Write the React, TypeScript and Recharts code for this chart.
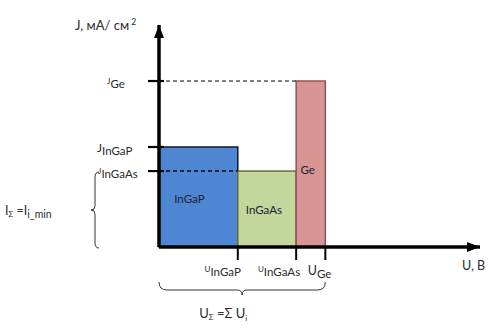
import React from 'react';
import { ComposedChart, XAxis, YAxis, ReferenceArea, ReferenceLine, ReferenceDot } from 'recharts';

// Junctions (sub-cells) of the triple-junction cell
const cells = ['InGaP', 'InGaAs', 'Ge'];
// Voltage of each sub-cell, V
const voltages = [1.35, 1.0, 0.5];
// Current density of each sub-cell, mA/cm²
const currents = [12.05, 9.15, 20];
// Axis extents
const uMax = 5.5;
const jMax = 26.75;

const cellFills = ['#4F86D4', '#C3D69B', '#D99594'];
const cellStrokes = ['#10182a', '#5E7330', '#8E5454'];

const starts: number[] = [];
const ends: number[] = [];
voltages.reduce((acc, v) => {
  starts.push(acc);
  ends.push(acc + v);
  return acc + v;
}, 0);
const uTotal = ends[ends.length - 1];
const jMin = Math.min(...currents);
const geIndex = cells.indexOf('Ge');

const FONT = 'Lato, "Open Sans", sans-serif';
const TXT = '#2b2b2b';

const yLabelStyle: Record<string, { dx: number; small: boolean }> = {
  Ge: { dx: -52, small: true },
  InGaP: { dx: -62, small: false },
  InGaAs: { dx: -61, small: true },
};

const YTick = (props: any) => {
  const { x, y, payload } = props;
  const idx = currents.indexOf(payload.value);
  const name = cells[idx];
  const st = yLabelStyle[name];
  return (
    <g>
      <line x1={x - 11} x2={x + 5} y1={y} y2={y} stroke="#000" strokeWidth={2.2} />
      <text x={x + st.dx} y={y + 7} fontFamily={FONT} fill={TXT}>
        <tspan fontSize={st.small ? 8 : 12} dy={st.small ? -4 : -2}>J</tspan>
        <tspan fontSize={11.5} dy={st.small ? 4 : 3}>{name}</tspan>
      </text>
    </g>
  );
};

const xLabelStyle: Record<string, { dx: number; small: boolean }> = {
  InGaP: { dx: 3, small: true },
  InGaAs: { dx: 4, small: true },
  Ge: { dx: 6, small: false },
};

const XTick = (props: any) => {
  const { x, y, payload } = props;
  const idx = ends.findIndex((e) => Math.abs(e - payload.value) < 1e-9);
  const name = cells[idx];
  const st = xLabelStyle[name];
  return (
    <g>
      <line x1={x} x2={x} y1={y - 1} y2={y + 13} stroke="#000" strokeWidth={2} />
      <text x={x + st.dx} y={y + 30} textAnchor="end" fontFamily={FONT} fill={TXT}>
        <tspan fontSize={st.small ? 8 : 12.5} dy={st.small ? -5 : -2}>U</tspan>
        <tspan fontSize={11.5} dy={st.small ? 4 : 3}>{name}</tspan>
      </text>
    </g>
  );
};

const labelOffsets = [
  { dx: -9, dy: 3 },
  { dx: -3, dy: 2 },
  { dx: -3, dy: 7 },
];

const makeCellShape = (i: number) => (props: any) => {
  const { x, y, width, height } = props;
  return (
    <g>
      <rect x={x} y={y} width={width} height={height} fill={cellFills[i]} stroke={cellStrokes[i]} strokeWidth={1.5} />
      <text
        x={x + width / 2 + labelOffsets[i].dx}
        y={y + height / 2 + labelOffsets[i].dy}
        textAnchor="middle"
        dominantBaseline="middle"
        fontFamily={FONT}
        fontSize={11.5}
        fill="#1b2233"
      >
        {cells[i]}
      </text>
    </g>
  );
};

const LeftBrace = (props: any) => {
  const { x, y, height } = props;
  const bx = x - 63;
  const top = y + 1;
  const bot = y + height + 1;
  const mid = (top + bot) / 2;
  const d = `M ${bx + 3} ${top} Q ${bx - 1} ${top} ${bx - 1} ${top + 5} L ${bx - 1} ${mid - 4} Q ${bx - 1} ${mid} ${bx - 5} ${mid} Q ${bx - 1} ${mid} ${bx - 1} ${mid + 4} L ${bx - 1} ${bot - 5} Q ${bx - 1} ${bot} ${bx + 3} ${bot}`;
  return (
    <g>
      <path d={d} fill="none" stroke="#333" strokeWidth={1} />
      <text x={5} y={mid + 5} fontFamily={FONT} fill={TXT} fontSize={12.5}>
        <tspan>I</tspan>
        <tspan fontSize={8} dy={2}>Σ</tspan>
        <tspan fontSize={12.5} dy={-2}> =I</tspan>
        <tspan fontSize={10.5} dy={3}>i_min</tspan>
      </text>
    </g>
  );
};

const BottomBrace = (props: any) => {
  const { x, y, width, height } = props;
  const base = y + height;
  const top = base + 35;
  const lvl = base + 43;
  const mid = x + width / 2;
  const l = x;
  const r = x + width;
  const d = `M ${l} ${top} Q ${l} ${lvl} ${l + 8} ${lvl} L ${mid - 5} ${lvl} Q ${mid} ${lvl} ${mid} ${lvl + 5} Q ${mid} ${lvl} ${mid + 5} ${lvl} L ${r - 8} ${lvl} Q ${r} ${lvl} ${r} ${top}`;
  return (
    <g>
      <path d={d} fill="none" stroke="#333" strokeWidth={1} />
      <text x={mid - 43} y={base + 71} fontFamily={FONT} fill={TXT} fontSize={13}>
        <tspan>U</tspan>
        <tspan fontSize={8} dy={2}>Σ</tspan>
        <tspan fontSize={13} dy={-2}> =Σ U</tspan>
        <tspan fontSize={8} dy={3}>i</tspan>
      </text>
    </g>
  );
};

const ArrowRight = (props: any) => {
  const { cx, cy } = props;
  return (
    <g>
      <path d={`M ${cx - 13} ${cy - 5} L ${cx} ${cy} L ${cx - 13} ${cy + 5} Z`} fill="#000" />
      <text x={cx - 18} y={cy + 23} fontFamily={FONT} fill={TXT} fontSize={12.5}>U, В</text>
    </g>
  );
};

const ArrowUp = (props: any) => {
  const { cx, cy } = props;
  return (
    <g>
      <path d={`M ${cx - 5} ${cy + 13} L ${cx} ${cy} L ${cx + 5} ${cy + 13} Z`} fill="#000" />
      <text x={cx - 84} y={cy + 5} fontFamily={FONT} fill={TXT} fontSize={13}>
        <tspan>J, мА/ см</tspan>
        <tspan fontSize={8.5} dy={-5}> 2</tspan>
      </text>
    </g>
  );
};

export default function App() {
  return (
    <div style={{ position: 'absolute', left: 0, top: 0, width: 493, height: 329, background: '#fff' }}>
      <ComposedChart width={493} height={329} margin={{ top: 25, right: 13, left: 0, bottom: 52 }}>
        <XAxis
          type="number"
          dataKey="u"
          domain={[0, uMax]}
          ticks={ends}
          interval={0}
          height={30}
          tickSize={0}
          tickMargin={0}
          tickLine={false}
          axisLine={{ stroke: '#000', strokeWidth: 3.5 }}
          tick={<XTick />}
          allowDataOverflow
        />
        <YAxis
          type="number"
          domain={[0, jMax]}
          ticks={currents}
          interval={0}
          width={159}
          tickSize={0}
          tickMargin={0}
          tickLine={false}
          axisLine={{ stroke: '#000', strokeWidth: 3.5 }}
          tick={<YTick />}
          allowDataOverflow
        />
        {cells.map((c, i) => (
          <ReferenceArea
            key={c}
            x1={starts[i]}
            x2={ends[i]}
            y1={0}
            y2={currents[i]}
            ifOverflow="visible"
            shape={makeCellShape(i)}
          />
        ))}
        <ReferenceArea x1={0} x2={uTotal} y1={0} y2={jMin} ifOverflow="visible" shape={<LeftBrace />} />
        <ReferenceArea x1={0} x2={uTotal} y1={0} y2={0.01} ifOverflow="visible" shape={<BottomBrace />} />
        <ReferenceLine
          segment={[{ x: 0, y: currents[geIndex] }, { x: starts[geIndex], y: currents[geIndex] }]}
          stroke="#000"
          strokeDasharray="4 3"
          strokeWidth={1}
          ifOverflow="visible"
        />
        <ReferenceLine
          segment={[{ x: 0, y: jMin }, { x: starts[currents.indexOf(jMin)], y: jMin }]}
          stroke="#0a0a1a"
          strokeDasharray="4 3"
          strokeWidth={1.5}
          ifOverflow="visible"
        />
        <ReferenceDot x={uMax} y={0} ifOverflow="visible" shape={<ArrowRight />} />
        <ReferenceDot x={0} y={jMax} ifOverflow="visible" shape={<ArrowUp />} />
      </ComposedChart>
    </div>
  );
}
